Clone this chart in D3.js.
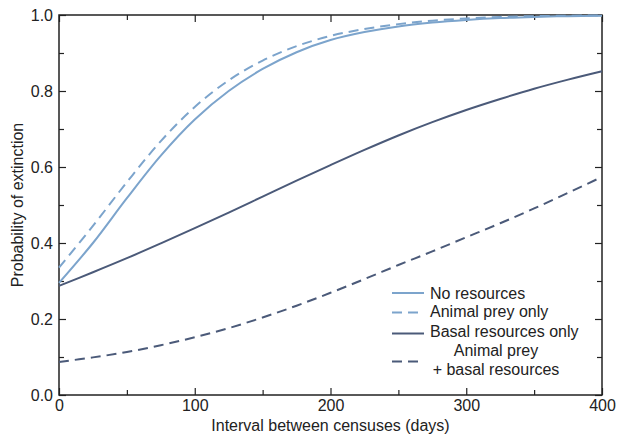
<!DOCTYPE html>
<html>
<head>
<meta charset="utf-8">
<script src="https://cdn.jsdelivr.net/npm/d3@7"></script>
<style>
    body { margin: 0; background: #fff; }
    svg text { font-family: "Liberation Sans", Arial, Helvetica, sans-serif; fill: #222; }
</style>
</head>
<body>
<div class="chart-holder"></div>
<script>
(function () {

    'use strict';

    // interval between censuses (days)
    var days = [0, 25, 50, 75, 100, 125, 150, 175, 200, 225, 250, 275, 300, 325, 350, 375, 400];

    var noResources = [0.295, 0.40, 0.518, 0.630, 0.725, 0.80, 0.858, 0.902, 0.934, 0.955, 0.97, 0.98, 0.987, 0.992, 0.995, 0.997, 0.998];
    var animalPreyOnly = [0.335, 0.445, 0.56, 0.668, 0.758, 0.828, 0.88, 0.918, 0.945, 0.963, 0.976, 0.985, 0.991, 0.995, 0.997, 0.998, 0.999];
    var basalOnly = [0.287, 0.323, 0.360, 0.399, 0.439, 0.480, 0.522, 0.564, 0.605, 0.645, 0.683, 0.718, 0.750, 0.779, 0.806, 0.830, 0.852];
    var preyAndBasal = [0.087, 0.099, 0.113, 0.131, 0.152, 0.176, 0.204, 0.235, 0.269, 0.305, 0.342, 0.378, 0.415, 0.452, 0.491, 0.532, 0.574];

    var xTicks = [0, 100, 200, 300, 400];
    var yTicks = [0, 0.2, 0.4, 0.6, 0.8, 1.0];

    var lightBlue = '#7ca4cc';
    var slate = '#4b5a79';

    var series = [
        {name: ['No resources'], values: noResources, color: lightBlue, dash: null},
        {name: ['Animal prey only'], values: animalPreyOnly, color: lightBlue, dash: '10,6'},
        {name: ['Basal resources only'], values: basalOnly, color: slate, dash: null},
        {name: ['Animal prey', '+ basal resources'], values: preyAndBasal, color: slate, dash: '10,6'}
    ];

    var width = 617;
    var height = 437;
    var margin = {top: 15, right: 15, bottom: 42, left: 59};

    var svg = d3.select('.chart-holder')
        .append('svg')
        .attr('width', width)
        .attr('height', height);

    var x = d3.scaleLinear().domain([0, 400]).range([margin.left, width - margin.right]);
    var y = d3.scaleLinear().domain([0, 1]).range([height - margin.bottom, margin.top]);

    var tickColor = '#222';

    // inward ticks on all four sides: majors labelled, minors between
    var drawAxis = function (axis, transform, labels) {
        var g = svg.append('g').attr('transform', transform).call(axis);
        g.select('.domain').remove();
        g.selectAll('line').attr('stroke', tickColor).attr('stroke-width', 1.2);
        g.selectAll('text').attr('font-size', 16).attr('fill', tickColor);
        if (!labels) g.selectAll('text').remove();
        return g;
    };

    var minorX = d3.range(50, 400, 100);
    var minorY = d3.range(0.1, 1, 0.2);

    drawAxis(d3.axisBottom(x).tickValues(xTicks).tickSize(-7).tickPadding(5).tickFormat(d3.format('d')),
        'translate(0,' + y(0) + ')', true);
    drawAxis(d3.axisBottom(x).tickValues(minorX).tickSize(-5), 'translate(0,' + y(0) + ')', false);
    drawAxis(d3.axisTop(x).tickValues(xTicks).tickSize(-7), 'translate(0,' + y(1) + ')', false);
    drawAxis(d3.axisTop(x).tickValues(minorX).tickSize(-5), 'translate(0,' + y(1) + ')', false);

    drawAxis(d3.axisLeft(y).tickValues(yTicks).tickSize(-7).tickPadding(6).tickFormat(d3.format('.1f')),
        'translate(' + x(0) + ',0)', true);
    drawAxis(d3.axisLeft(y).tickValues(minorY).tickSize(-5), 'translate(' + x(0) + ',0)', false);
    drawAxis(d3.axisRight(y).tickValues(yTicks).tickSize(-7), 'translate(' + x(400) + ',0)', false);
    drawAxis(d3.axisRight(y).tickValues(minorY).tickSize(-5), 'translate(' + x(400) + ',0)', false);

    // frame
    svg.append('rect')
        .attr('x', x(0))
        .attr('y', y(1))
        .attr('width', x(400) - x(0))
        .attr('height', y(0) - y(1))
        .attr('fill', 'none')
        .attr('stroke', tickColor)
        .attr('stroke-width', 1.5);

    // curves
    var line = d3.line()
        .x(function (d) { return x(d[0]); })
        .y(function (d) { return y(d[1]); })
        .curve(d3.curveCatmullRom.alpha(0.5));

    series.forEach(function (s) {
        svg.append('path')
            .datum(days.map(function (d, i) { return [d, s.values[i]]; }))
            .attr('d', line)
            .attr('fill', 'none')
            .attr('stroke', s.color)
            .attr('stroke-width', 2)
            .attr('stroke-dasharray', s.dash);
    });

    // axis titles
    svg.append('text')
        .attr('x', (x(0) + x(400)) / 2)
        .attr('y', 431)
        .attr('text-anchor', 'middle')
        .attr('font-size', 16)
        .text('Interval between censuses (days)');

    svg.append('text')
        .attr('transform', 'translate(23,' + (y(0) + y(1)) / 2 + ') rotate(-90)')
        .attr('text-anchor', 'middle')
        .attr('font-size', 16)
        .text('Probability of extinction');

    // legend
    var legendRows = [
        {lineY: 293, textY: [298.5]},
        {lineY: 312.5, textY: [317]},
        {lineY: 333.5, textY: [337]},
        {lineY: 361.5, textY: [356, 375]}
    ];

    var legend = svg.append('g');

    series.forEach(function (s, i) {
        var row = legendRows[i];
        legend.append('line')
            .attr('x1', 392).attr('x2', 424)
            .attr('y1', row.lineY).attr('y2', row.lineY)
            .attr('stroke', s.color)
            .attr('stroke-width', 2)
            .attr('stroke-dasharray', s.dash);

        var multi = s.name.length > 1;
        s.name.forEach(function (label, j) {
            legend.append('text')
                .attr('x', multi ? 496 : 430)
                .attr('y', row.textY[j])
                .attr('text-anchor', multi ? 'middle' : 'start')
                .attr('font-size', 16)
                .text(label);
        });
    });

}());
</script>
</body>
</html>
